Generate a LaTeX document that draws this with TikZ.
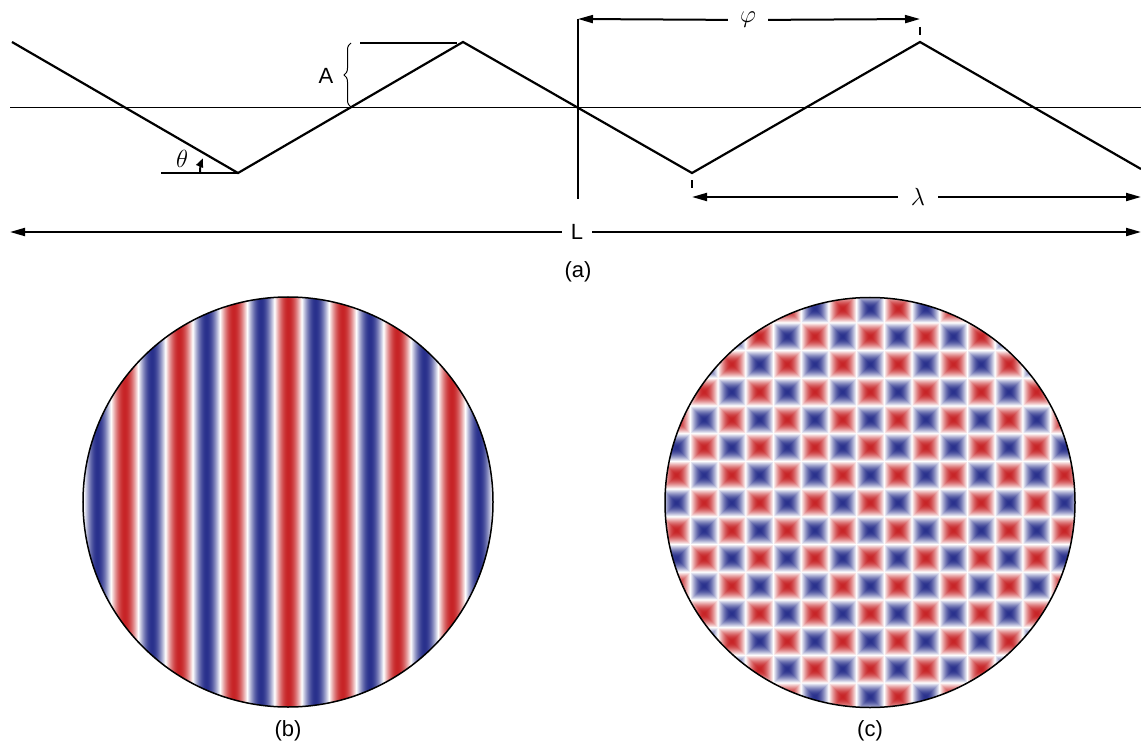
\documentclass[tikz,border=0pt]{standalone}
\usepackage{fontspec}
\setmainfont{Liberation Sans}
\usetikzlibrary{arrows.meta,decorations.pathreplacing}

\pgfdeclarefunctionalshading{stripes}{\pgfpoint{-50bp}{-50bp}}{\pgfpoint{50bp}{50bp}}{}{
  pop 54.16 mul cos
  dup 0 ge {
    dup 0.22 mul 1 exch sub exch
    dup 0.86 mul 1 exch sub exch
    0.85 mul 1 exch sub
  } {
    neg
    dup 0.84 mul 1 exch sub exch
    dup 0.81 mul 1 exch sub exch
    0.45 mul 1 exch sub
  } ifelse
}

\pgfdeclarefunctionalshading{squares}{\pgfpoint{-50bp}{-50bp}}{\pgfpoint{50bp}{50bp}}{}{
  53.28 mul cos exch 53.28 mul cos
  2 copy mul 0 ge {1} {-1} ifelse
  3 1 roll
  abs exch abs
  2 copy gt {exch} if pop
  mul
  dup 0 ge {
    dup 0.22 mul 1 exch sub exch
    dup 0.86 mul 1 exch sub exch
    0.85 mul 1 exch sub
  } {
    neg
    dup 0.84 mul 1 exch sub exch
    dup 0.81 mul 1 exch sub exch
    0.45 mul 1 exch sub
  } ifelse
}

\tikzset{
  zig/.style={line width=2.2bp, line join=miter},
  axisline/.style={line width=1.2bp},
  dimarrow/.style={line width=2bp, -{Triangle[length=15bp,width=8bp]}},
  tickmark/.style={line width=2bp},
  lbl/.style={inner sep=0pt, font=\fontsize{22bp}{26bp}\selectfont},
  greek/.style={inner sep=0pt, font=\fontsize{23bp}{27bp}\selectfont},
  disk/.style={circle, draw, line width=1.5bp, minimum size=410bp, inner sep=0pt}
}

\begin{document}
\begin{tikzpicture}[x=1bp,y=-1bp]
\useasboundingbox (0,0) rectangle (1141,744);

% ---------- (a) ----------
\coordinate (ax0) at (10,107.5);
\coordinate (ax1) at (1141,107.5);
\draw[axisline] (ax0) -- (ax1);

\coordinate (z0) at (12,42);
\coordinate (z1) at (238,173);
\coordinate (z2) at (463,42);
\coordinate (z3) at (692,173);
\coordinate (z4) at (920,42);
\coordinate (z5) at (1141,169);
\draw[zig] (z0) -- (z1) -- (z2) -- (z3) -- (z4) -- (z5);

% vertical reference line
\coordinate (v0) at (578,19);
\coordinate (v1) at (578,199);
\draw[axisline] (v0) -- (v1);

% amplitude
\coordinate (aref0) at (360,43);
\coordinate (aref1) at (457,43);
\draw[line width=2bp] (aref0) -- (aref1);
\coordinate (br0) at (351,107);
\coordinate (br1) at (351,43);
\draw[line width=1bp, decorate, decoration={brace, amplitude=7bp}] (br0) -- (br1);
\node[lbl] (A) at (326,76) {A};

% theta
\coordinate (th0) at (161,173);
\draw[line width=2bp] (th0) -- (z1);
\coordinate (tharc) at (200,173);
\draw[line width=2bp, -{Triangle[length=9bp,width=7bp]}] (tharc) arc[start angle=180, end angle=203, radius=38];
\node[greek] (theta) at (182,159) {$\theta$};

% phi
\node[greek, inner xsep=12bp, inner ysep=2bp] (phi) at (748,20) {$\varphi$};
\coordinate (phiL) at (578,19);
\coordinate (phiR) at (920,19);
\draw[dimarrow] (phi) -- (phiL);
\draw[dimarrow] (phi) -- (phiR);
\coordinate (pk0) at (920,27);
\coordinate (pk1) at (920,35);
\draw[tickmark] (pk0) -- (pk1);

% lambda
\node[greek, inner xsep=13bp, inner ysep=2bp] (lam) at (918,197) {$\lambda$};
\coordinate (lamL) at (692,197);
\coordinate (lamR) at (1141,197);
\draw[dimarrow] (lam) -- (lamL);
\draw[dimarrow] (lam) -- (lamR);
\coordinate (tr0) at (692,180);
\coordinate (tr1) at (692,188);
\draw[tickmark] (tr0) -- (tr1);

% L
\node[lbl, inner xsep=9bp, inner ysep=2bp] (L) at (577,232) {L};
\coordinate (LL) at (10,232);
\coordinate (LR) at (1141,232);
\draw[dimarrow] (L) -- (LL);
\draw[dimarrow] (L) -- (LR);

\node[lbl] (capa) at (578,272) {(a)};

% ---------- (b) and (c) ----------
\node[disk, shade, shading=stripes] (b) at (288,502) {};
\node[disk, shade, shading=squares] (c) at (870,502.5) {};
\node[lbl] (capb) at (288,731) {(b)};
\node[lbl] (capc) at (870,731) {(c)};
\end{tikzpicture}
\end{document}
